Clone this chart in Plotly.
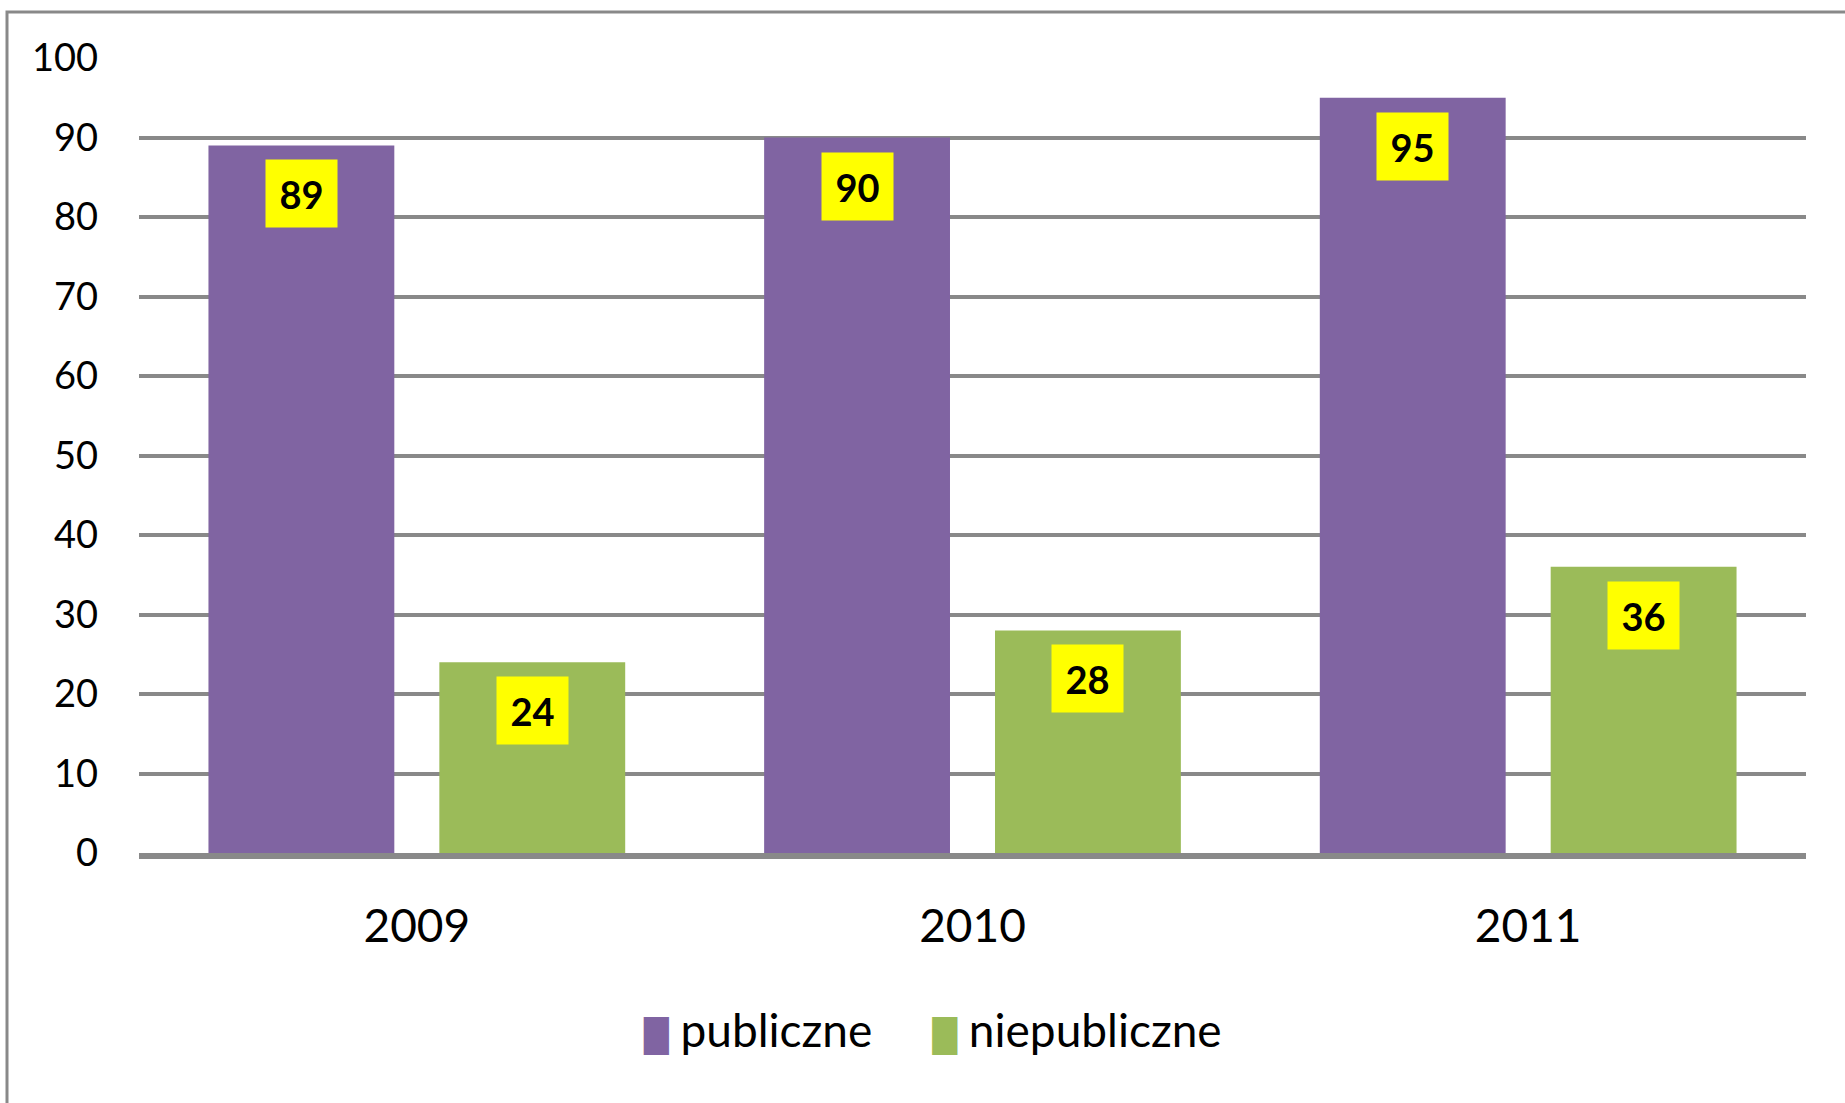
import plotly.graph_objects as go

years = ["2009", "2010", "2011"]
publiczne = [89, 90, 95]
niepubliczne = [24, 28, 36]
y_ticks = [0, 10, 20, 30, 40, 50, 60, 70, 80, 90, 100]

purple = "#8064A2"
green = "#9BBB59"
grid = "#898989"
font = "Lato"

W, H = 1845, 1103
ml, mr, mt, mb = 139, 39, 58, 250
bargap = 0.169

fig = go.Figure()
fig.add_trace(go.Bar(x=years, y=publiczne, name="publiczne", marker_color=purple,
                     marker_line_width=0, showlegend=False))
fig.add_trace(go.Bar(x=years, y=niepubliczne, name="niepubliczne", marker_color=green,
                     marker_line_width=0, showlegend=False))

# legend entries: big coloured block drawn as text, real marker hidden
# each entry gets its own legend so the spacing can match the original
for name, col, lg in [("publiczne", purple, "legend"), ("niepubliczne", green, "legend2")]:
    label = '<span style="color:%s;font-size:32px;font-family:DejaVu Sans">█</span> %s' % (col, name)
    fig.add_trace(go.Scatter(x=[years[0]], y=[None], mode="markers", name=label, legend=lg,
                             marker=dict(size=1, color="rgba(0,0,0,0)")))

# value labels in yellow boxes at top of bars (x by category index)
cat_w = (W - ml - mr) / len(years)
off = cat_w * (1 - bargap) / 4
for vals, sh in [(publiczne, -off), (niepubliczne, off)]:
    for i, v in enumerate(vals):
        fig.add_annotation(x=i, y=v, xref="x", yref="y", text="<b>%d</b>" % v,
                           showarrow=False, yanchor="top", xanchor="center",
                           xshift=sh, yshift=-14, bgcolor="#FFFF00",
                           width=71, height=67, borderpad=0,
                           font=dict(family=font, size=38, color="black"))

# outer frame (cut at right/bottom)
fig.add_shape(type="rect", xref="paper", yref="paper",
              x0=(7 - ml) / (W - ml - mr), x1=1.2,
              y0=-1, y1=(H - mb - 12) / (H - mt - mb),
              line=dict(color=grid, width=3), layer="below")

leg = dict(orientation="h", y=-0.222, xanchor="left", yanchor="middle",
           font=dict(size=46, family=font), itemwidth=30, bgcolor="rgba(0,0,0,0)")

fig.update_layout(
    width=W, height=H,
    margin=dict(l=ml, r=mr, t=mt, b=mb),
    paper_bgcolor="white", plot_bgcolor="white",
    barmode="group", bargap=bargap, bargroupgap=0.195,
    font=dict(family=font, color="black"),
    showlegend=True,
    legend=dict(leg, x=0.279),
    legend2=dict(leg, x=0.452),
    xaxis=dict(type="category", categoryarray=years, range=[-0.5, len(years) - 0.5],
               showgrid=False, showline=True, linecolor=grid, linewidth=6,
               tickfont=dict(size=46), ticks="", ticklabelstandoff=28),
    yaxis=dict(range=[0, 100], tickvals=y_ticks, showgrid=True, gridcolor=grid,
               gridwidth=4, zeroline=False, showline=False, ticks="",
               tickfont=dict(size=38), ticklabelstandoff=40),
)

fig.write_html("out.html", config={"displayModeBar": False},
               post_script="document.body.style.margin='0';")
